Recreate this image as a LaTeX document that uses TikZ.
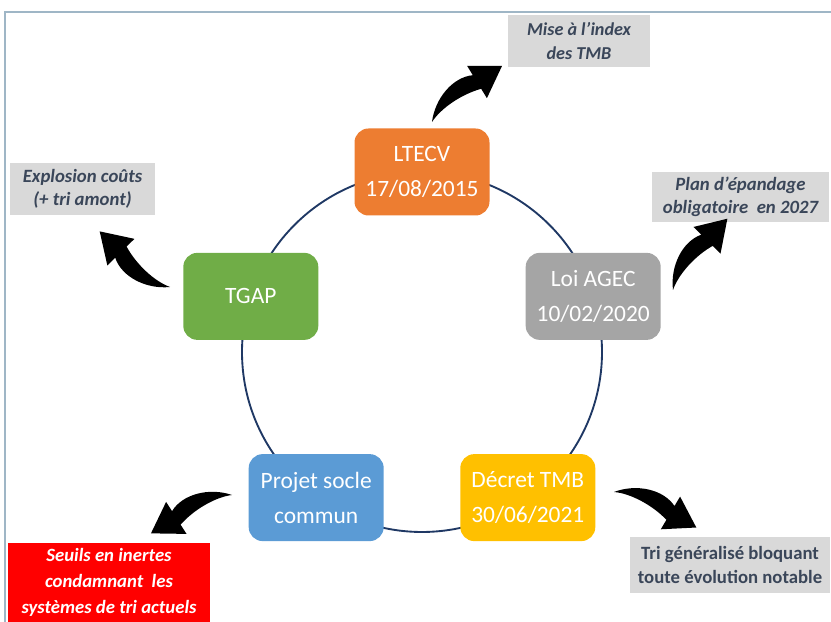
\documentclass[tikz,border=0pt]{standalone}
\usepackage{fontspec}
\setmainfont{Carlito}
\usetikzlibrary{positioning,calc}
\definecolor{ltecvorange}{HTML}{ED7D31}
\definecolor{agecgrey}{HTML}{A5A5A5}
\definecolor{decretgold}{HTML}{FFC000}
\definecolor{socleblue}{HTML}{5B9BD5}
\definecolor{tgapgreen}{HTML}{70AD47}
\definecolor{notegrey}{HTML}{D9D9D9}
\definecolor{notetext}{HTML}{3A4659}
\definecolor{ringblue}{HTML}{1F3864}
\definecolor{framegrey}{HTML}{9FB6C6}
\definecolor{alertred}{HTML}{FF0000}
\tikzset{
  event/.style={rounded corners=12pt, align=center, text=white,
                font=\fontsize{20}{30}\selectfont,
                minimum width=4.05cm, minimum height=2.61cm, inner sep=2pt},
  note/.style={fill=notegrey, text=notetext, align=center, inner sep=0pt,
               font=\fontsize{16}{20}\selectfont\bfseries\itshape},
  ring/.style={draw=ringblue, line width=1.6pt},
  swoosh/.pic={
    \fill[black] (0,0) .. controls (3,24) and (21,45) .. (40.8,46.8)
      -- (35.1,56.2) -- (70,56) -- (54.9,23.8) -- (49.2,33.2)
      .. controls (30,28) and (9,14) .. (0,0) -- cycle;
  },
}
\begin{document}
\begin{tikzpicture}[x=0.03cm, y=0.03cm]
  \useasboundingbox (0,0) rectangle (831,622);
  \draw[framegrey, line width=1.5pt] (5,0) -- (5,610) -- (831,610);
  % cycle of texts
  \coordinate (c) at (422,270);
  \draw[ring] (c) circle[radius=180];
  \node[event, fill=ltecvorange] (ltecv) at ([shift={(90:180)}]c) {LTECV\\17/08/2015};
  \node[event, fill=agecgrey] (agec) at ([shift={(18:180)}]c) {Loi AGEC\\10/02/2020};
  \node[event, fill=decretgold] (decret) at ([shift={(-54:180)}]c) {Décret TMB\\30/06/2021};
  \node[event, fill=socleblue] (socle) at ([shift={(-126:180)}]c) {Projet socle\\commun};
  \node[event, fill=tgapgreen] (tgap) at ([shift={(162:180)}]c) {TGAP};
  % consequences
  \node[note, font=\fontsize{15.5}{20}\selectfont\bfseries\itshape,
        minimum width=4.26cm, minimum height=1.56cm] (index) at (579,581)
    {Mise à l’index\\des TMB};
  \node[note, minimum width=4.35cm, minimum height=1.56cm] (couts) at (82.5,433)
    {Explosion coûts\\(+ tri amont)};
  \node[note, minimum width=5.31cm, minimum height=1.5cm] (epandage) at (740.5,425)
    {Plan d’épandage\\obligatoire \ en 2027};
  \node[note, font=\fontsize{16}{21}\selectfont\bfseries, minimum width=6cm,
        minimum height=1.68cm] (trigen) at (730,57)
    {Tri généralisé bloquant\\toute évolution notable};
  \node[note, fill=alertred, text=white, font=\fontsize{16}{22.5}\selectfont\bfseries\itshape,
        minimum width=6.06cm, minimum height=2.37cm] (seuils) at (109,39.5)
    {Seuils en inertes\\condamnant \ les\\systèmes de tri actuels};
  % curved arrows
  \pic at (432,500) {swoosh};
  \pic[rotate=14] at (673,332) {swoosh};
  \pic[rotate=-62] at (614,130) {swoosh};
  \pic[rotate=103] at (170,335) {swoosh};
  \pic[rotate=64, xscale=-1] at (232,127) {swoosh};
\end{tikzpicture}
\end{document}
